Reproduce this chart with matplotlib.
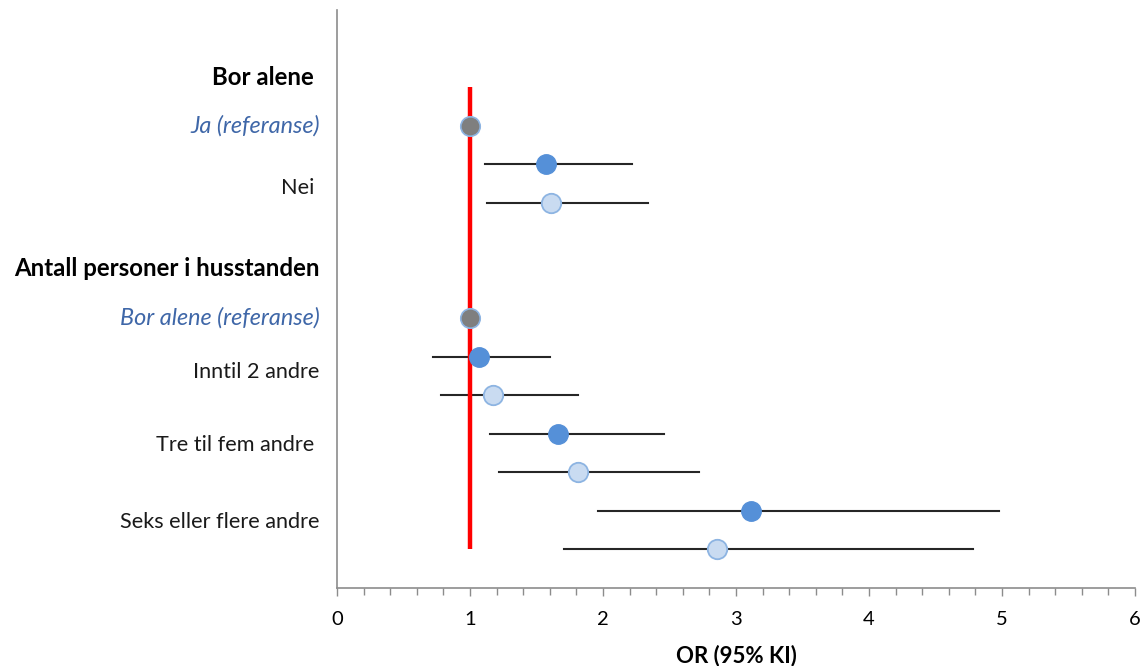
import matplotlib
matplotlib.use("Agg")
import matplotlib.pyplot as plt
from matplotlib.ticker import MultipleLocator

# Odds ratios with 95% confidence intervals
groups = ["Bor alene ", "Antall personer i husstanden"]
ref_labels = ["Ja (referanse)", "Bor alene (referanse)"]
ref_or = [1.0, 1.0]

cat_labels = ["Nei ", "Inntil 2 andre", "Tre til fem andre ", "Seks eller flere andre"]
or_s1 = [1.57, 1.07, 1.66, 3.11]
lo_s1 = [1.11, 0.72, 1.15, 1.96]
hi_s1 = [2.22, 1.60, 2.46, 4.98]
or_s2 = [1.61, 1.17, 1.81, 2.86]
lo_s2 = [1.13, 0.78, 1.22, 1.71]
hi_s2 = [2.34, 1.81, 2.72, 4.78]

x_ticks = [0, 1, 2, 3, 4, 5, 6]
x_label = "OR (95% KI)"

# Row layout (rows counted downward from the top of the plot)
group_rows = [1.76, 6.7]
ref_rows = [3, 8]
s1_rows = [4, 9, 11, 13]
s2_rows = [5, 10, 12, 14]
cat_label_rows = [4.62, 9.4, 11.3, 13.3]

plt.rcParams["font.family"] = ["Lato", "DejaVu Sans"]

fig = plt.figure(figsize=(11.44, 6.66), dpi=100)
ax = fig.add_axes([337 / 1144, 1 - 588 / 666, (1135 - 337) / 1144, 578 / 666])

c_s1 = "#5590D8"
c_s2 = "#C9DBF1"
c_edge2 = "#8DB4E2"
c_ref = "#7F7F7F"
c_line = "#262626"
c_italic = "#3F67A8"

# reference line at OR = 1
ax.plot([1, 1], [ref_rows[0] - 1, s2_rows[-1]], color="#FF0000", lw=3.2,
        solid_capstyle="butt", zorder=2)

for y, o, lo, hi in zip(s1_rows, or_s1, lo_s1, hi_s1):
    ax.plot([lo, hi], [y, y], color=c_line, lw=1.5, zorder=1)
    ax.plot([o], [y], "o", ms=14, mfc=c_s1, mec=c_s1, mew=1, zorder=3)
for y, o, lo, hi in zip(s2_rows, or_s2, lo_s2, hi_s2):
    ax.plot([lo, hi], [y, y], color=c_line, lw=1.5, zorder=1)
    ax.plot([o], [y], "o", ms=14, mfc=c_s2, mec=c_edge2, mew=1.3, zorder=3)
for y, o in zip(ref_rows, ref_or):
    ax.plot([o], [y], "o", ms=14, mfc=c_ref, mec=c_edge2, mew=1.2, zorder=3)

# row labels to the left of the axis
def row_label(y, text, size, **kw):
    ax.annotate(text, xy=(0, y), xycoords=("axes fraction", "data"),
                xytext=(-12.5, 0), textcoords="offset points",
                ha="right", va="center", fontsize=size, **kw)

for y, t in zip(group_rows, groups):
    row_label(y, t, 17.3, fontweight="bold", color="black")
for y, t in zip(ref_rows, ref_labels):
    row_label(y, t, 16.8, fontstyle="italic", color=c_italic)
for y, t in zip(cat_label_rows, cat_labels):
    row_label(y, t, 15.6, color="#1a1a1a")

ax.set_xlim(x_ticks[0], x_ticks[-1])
ax.set_ylim(15, 0)
ax.set_xticks(x_ticks)
ax.xaxis.set_minor_locator(MultipleLocator(0.2))
ax.set_yticks([])
ax.tick_params(axis="x", which="both", direction="out", color="#8C8C8C", width=1)
ax.tick_params(axis="x", which="major", length=5.5, pad=11, labelsize=14.5)
ax.tick_params(axis="x", which="minor", length=5)
ax.set_xlabel(x_label, fontsize=16, fontweight="bold", labelpad=12)

for s in ("top", "right"):
    ax.spines[s].set_visible(False)
for s in ("left", "bottom"):
    ax.spines[s].set_color("#8C8C8C")
    ax.spines[s].set_linewidth(1.2)

fig.savefig("out.png", dpi=100)
